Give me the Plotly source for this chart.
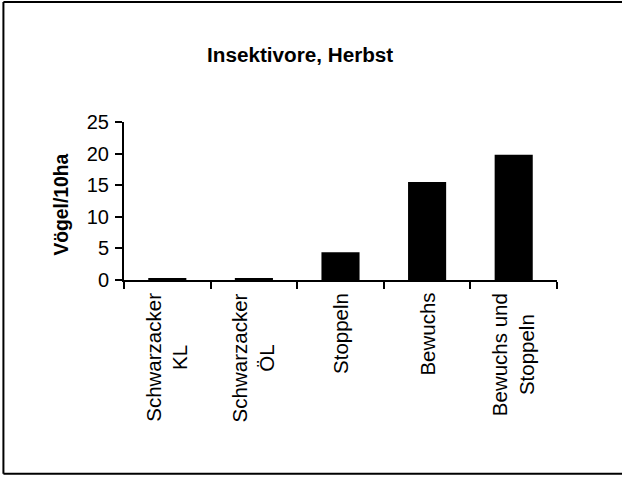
import plotly.graph_objects as go

categories = ["Schwarzacker KL", "Schwarzacker ÖL", "Stoppeln", "Bewuchs", "Bewuchs und Stoppeln"]
category_labels = ["Schwarzacker<br>KL", "Schwarzacker<br>ÖL", "Stoppeln", "Bewuchs", "Bewuchs und<br>Stoppeln"]
values = [0.3, 0.3, 4.4, 15.5, 19.8]
y_ticks = [0, 5, 10, 15, 20, 25]

W, H = 622, 477
L, R, T, B = 124, 65.3, 121.7, 197
pw = W - L - R
ph = H - T - B

def px_x(px):
    return (px - L) / pw

def px_y(py):
    return (H - B - py) / ph

FONT = "Liberation Sans, Arial, sans-serif"

fig = go.Figure()
fig.add_trace(go.Bar(x=categories, y=values, marker=dict(color="black", line=dict(width=0)),
                     hoverinfo="skip"))

annotations = []
for c, lab in zip(categories, category_labels):
    annotations.append(dict(x=c, xref="x", y=px_y(291), yref="paper", text=lab, textangle=-90,
                            showarrow=False, xanchor="center", yanchor="top", align="center",
                            font=dict(family=FONT, size=20.5, color="black")))
annotations.append(dict(x=px_x(61.5), xref="paper", y=px_y(204), yref="paper", text="<b>Vögel/10ha</b>",
                        textangle=-90, showarrow=False, xanchor="center", yanchor="middle",
                        font=dict(family=FONT, size=19.3, color="black")))
annotations.append(dict(x=px_x(300), xref="paper", y=px_y(54), yref="paper", text="<b>Insektivore, Herbst</b>",
                        showarrow=False, xanchor="center", yanchor="middle",
                        font=dict(family=FONT, size=20.7, color="black")))

border = dict(color="black", width=2)
shapes = [
    dict(type="line", xref="paper", yref="paper", x0=px_x(3.5), x1=px_x(3.5), y0=px_y(474), y1=px_y(1.5), line=border, layer="below"),
    dict(type="line", xref="paper", yref="paper", x0=px_x(3.5), x1=px_x(622), y0=px_y(1.5), y1=px_y(1.5), line=border, layer="below"),
    dict(type="line", xref="paper", yref="paper", x0=px_x(3.5), x1=px_x(622), y0=px_y(474), y1=px_y(474), line=border, layer="below"),
]

fig.update_layout(
    width=W, height=H,
    margin=dict(l=L, r=R, t=T, b=B, pad=0),
    paper_bgcolor="white", plot_bgcolor="white",
    showlegend=False,
    bargap=0.56,
    annotations=annotations,
    shapes=shapes,
    xaxis=dict(range=[-0.5, 4.5], showticklabels=False, ticks="outside", tickson="boundaries",
               ticklen=7, tickwidth=2, tickcolor="black", showline=True, linecolor="black", linewidth=2,
               showgrid=False, zeroline=False),
    yaxis=dict(range=[0, 25], tickvals=y_ticks, ticks="outside", ticklen=7, tickwidth=2, tickcolor="black",
               showline=True, linecolor="black", linewidth=2, showgrid=False, zeroline=False,
               tickfont=dict(family=FONT, size=20, color="black"), ticklabelstandoff=2),
)

fig.write_html("out.html", config={"displayModeBar": False},
               post_script="document.body.style.margin='0';document.body.style.overflow='hidden';")
